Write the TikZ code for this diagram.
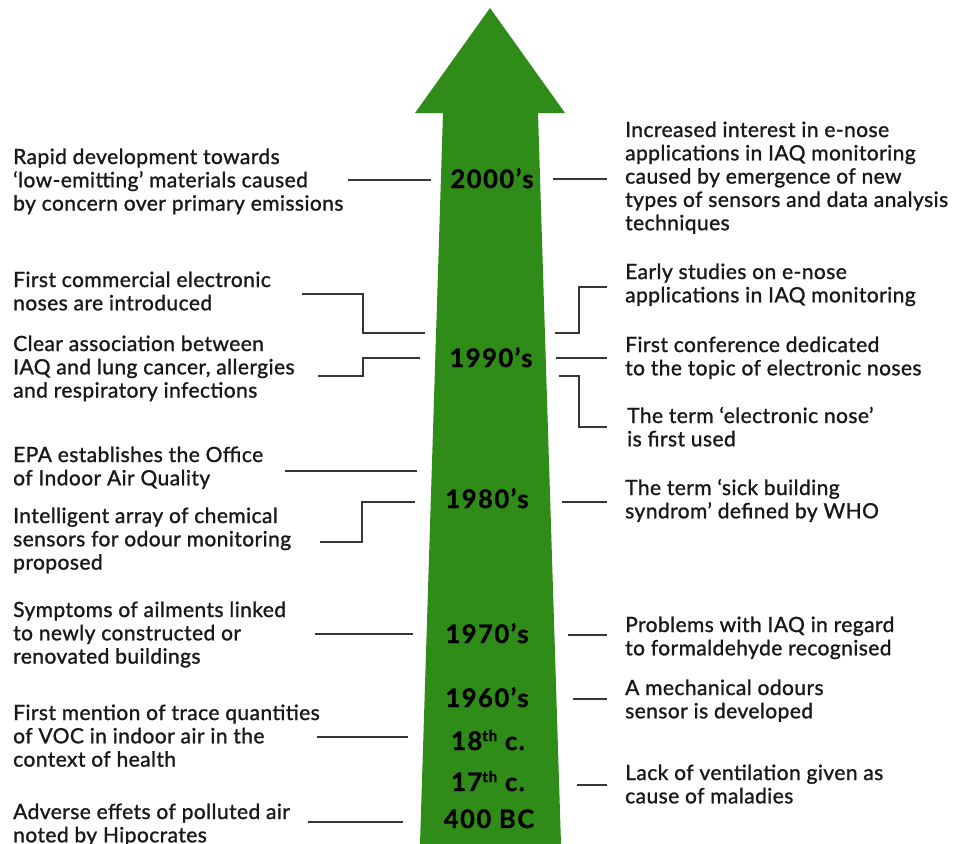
\documentclass[tikz,border=0pt]{standalone}
\usepackage{fontspec}
\setmainfont{Lato}
\newfontfamily\bodyfont[FakeBold=1.2,LetterSpace=2]{Lato}
\newfontfamily\yearfont[LetterSpace=6,FakeBold=1.2]{Lato Bold}
\definecolor{arrowgreen}{RGB}{47,140,24}
\definecolor{linegray}{RGB}{55,55,55}
\definecolor{txt}{RGB}{25,25,25}
\newcommand\txtblk[1]{\begin{tabular}[t]{@{}l@{}}#1\end{tabular}}
\newcommand\supth{\raisebox{0.35em}{\fontsize{15}{15}\selectfont th}}
\tikzset{
  desc/.style={anchor=base west, inner sep=0pt, text=txt, font=\bodyfont\fontsize{21}{23.3}\selectfont},
  year/.style={anchor=base, inner sep=0pt, text=black, font=\yearfont\fontsize{25.5}{28}\selectfont},
  conn/.style={draw=linegray, line width=1.8pt}
}
\begin{document}
\begin{tikzpicture}[x=1pt,y=-1pt]
\useasboundingbox[fill=white] (0,0) rectangle (962,844);
% arrow
\fill[arrowgreen] (490,8) -- (565,113) -- (538,113) -- (561,844) -- (420,844) -- (443,113) -- (415,113) -- cycle;

% years
\node[year] (y2000) at (492,188) {2000’s};
\node[year] (y1990) at (491,367) {1990’s};
\node[year] (y1980) at (487,508) {1980’s};
\node[year] (y1970) at (487,643) {1970’s};
\node[year] (y1960) at (487,707) {1960’s};
\node[year] (y18) at (488,750) {18\supth{} c.};
\node[year] (y17) at (488,791) {17\supth{} c.};
\node[year] (y400) at (489,828) {400 BC};

% left texts
\node[desc] (l2000) at (13,164) {\txtblk{Rapid development towards\\‘low-emitting’ materials caused\\by concern over primary emissions}};
\node[desc] (l1990a) at (13,287) {\txtblk{First commercial electronic\\noses are introduced}};
\node[desc] (l1990b) at (13,351) {\txtblk{Clear association between\\IAQ and lung cancer, allergies\\and respiratory infections}};
\node[desc] (l1980a) at (13,462) {\txtblk{EPA establishes the Office\\of Indoor Air Quality}};
\node[desc] (l1980b) at (13,523) {\txtblk{Intelligent array of chemical\\sensors for odour monitoring\\proposed}};
\node[desc] (l1970) at (13,617) {\txtblk{Symptoms of ailments linked\\to newly constructed or\\renovated buildings}};
\node[desc] (l18) at (13,720) {\txtblk{First mention of trace quantities\\of VOC in indoor air in the\\context of health}};
\node[desc] (l400) at (13,819) {\txtblk{Adverse effets of polluted air\\noted by Hipocrates}};

% right texts
\node[desc] (r2000) at (625,137) {\txtblk{Increased interest in e-nose\\applications in IAQ monitoring\\caused by emergence of new\\types of sensors and data analysis\\techniques}};
\node[desc] (r1990a) at (625,279) {\txtblk{Early studies on e-nose\\applications in IAQ monitoring}};
\node[desc] (r1990b) at (625,352) {\txtblk{First conference dedicated\\to the topic of electronic noses}};
\node[desc] (r1990c) at (627,423) {\txtblk{The term ‘electronic nose’\\is first used}};
\node[desc] (r1980) at (625,495) {\txtblk{The term ‘sick building\\syndrom’ defined by WHO}};
\node[desc] (r1970) at (625,632) {\txtblk{Problems with IAQ in regard\\to formaldehyde recognised}};
\node[desc] (r1960) at (625,695) {\txtblk{A mechanical odours\\sensor is developed}};
\node[desc] (r17) at (625,780) {\txtblk{Lack of ventilation given as\\cause of maladies}};

% connector end points
\coordinate (a1) at (348,180); \coordinate (a2) at (431,180);
\coordinate (b1) at (553,179); \coordinate (b2) at (607,179);
\coordinate (c1) at (302,294); \coordinate (c2) at (425,333);
\coordinate (d1) at (318,376); \coordinate (d2) at (420,358);
\coordinate (e1) at (555,333); \coordinate (e2) at (607,287);
\coordinate (f1) at (556,358); \coordinate (f2) at (607,358);
\coordinate (g1) at (559,376); \coordinate (g2) at (607,427);
\coordinate (h1) at (285,471); \coordinate (h2) at (417,471);
\coordinate (i1) at (320,542); \coordinate (i2) at (415,502);
\coordinate (j1) at (562,502); \coordinate (j2) at (607,502);
\coordinate (k1) at (315,634); \coordinate (k2) at (413,634);
\coordinate (m1) at (568,635); \coordinate (m2) at (607,635);
\coordinate (n1) at (573,699); \coordinate (n2) at (607,699);
\coordinate (o1) at (317,737); \coordinate (o2) at (408,737);
\coordinate (p1) at (577,785); \coordinate (p2) at (607,785);
\coordinate (q1) at (308,822); \coordinate (q2) at (403,822);

% connectors
\draw[conn] (a1) -- (a2);
\draw[conn] (b1) -- (b2);
\draw[conn] (c1) -- (363,294) -- (363,333) -- (c2);
\draw[conn] (d1) -- (363,376) -- (363,358) -- (d2);
\draw[conn] (e1) -- (579,333) -- (579,287) -- (e2);
\draw[conn] (f1) -- (f2);
\draw[conn] (g1) -- (579,376) -- (579,427) -- (g2);
\draw[conn] (h1) -- (h2);
\draw[conn] (i1) -- (362,542) -- (362,502) -- (i2);
\draw[conn] (j1) -- (j2);
\draw[conn] (k1) -- (k2);
\draw[conn] (m1) -- (m2);
\draw[conn] (n1) -- (n2);
\draw[conn] (o1) -- (o2);
\draw[conn] (p1) -- (p2);
\draw[conn] (q1) -- (q2);
\end{tikzpicture}
\end{document}
